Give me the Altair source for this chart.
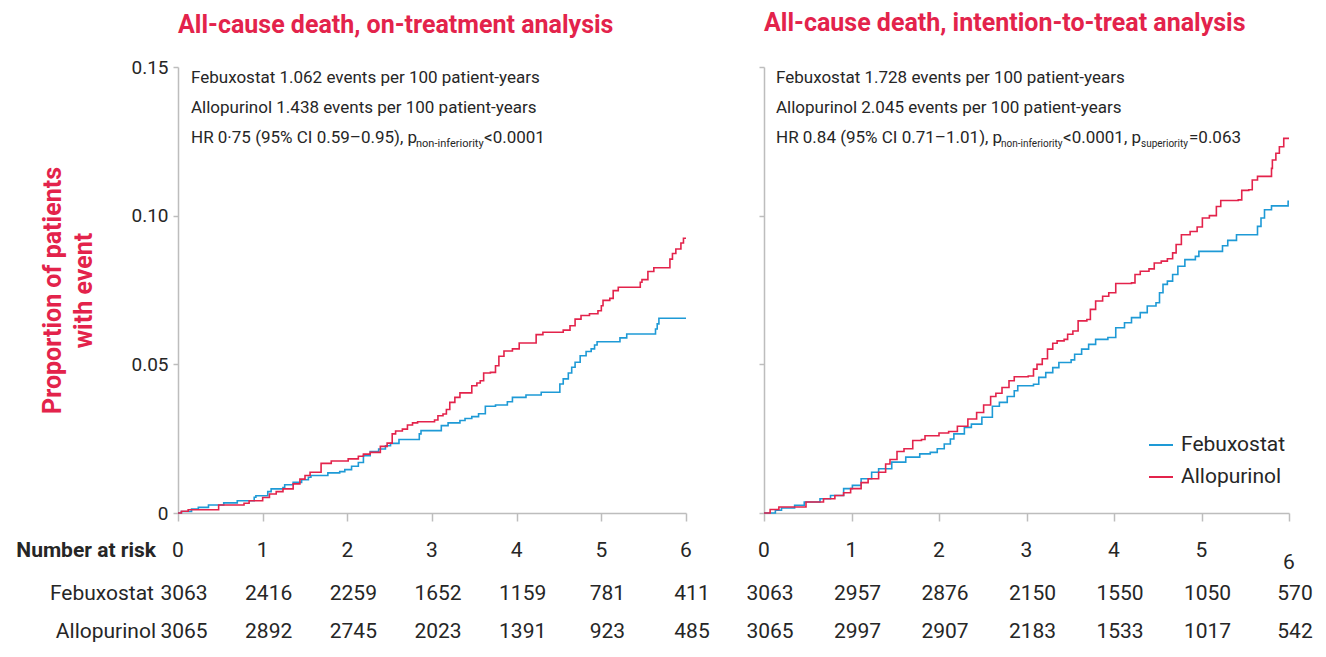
import altair as alt
import pandas as pd

FONT = "Roboto"
RED = "#E3234B"
BLUE = "#1E9AD6"
INK = "#262626"
AXIS = "#BDBDBD"

years = [0, 1, 2, 3, 4, 5, 6]
groups = ["Febuxostat", "Allopurinol"]

# ---- On-treatment analysis (cumulative proportion with event) ----
ot_feb_t = [0, 0.04, 0.16, 0.24, 0.36, 0.54, 0.70, 0.90, 0.92, 1.06,
            1.10, 1.24, 1.26, 1.36, 1.46, 1.54, 1.57, 1.77, 1.91, 1.97,
            2.05, 2.13, 2.19, 2.27, 2.37, 2.45, 2.51, 2.61, 2.85, 2.87,
            3.11, 3.19, 3.33, 3.39, 3.47, 3.55, 3.63, 3.75, 3.89, 3.95,
            4.11, 4.29, 4.51, 4.55, 4.61, 4.65, 4.69, 4.75, 4.82, 4.88,
            4.92, 4.95, 5.22, 5.30, 5.64, 5.66, 5.68, 6.00]
ot_feb_v = [0, 0.0005, 0.0013, 0.0019, 0.0027, 0.0034, 0.0041, 0.0053, 0.0058, 0.0072,
            0.0081, 0.0086, 0.0095, 0.0103, 0.0112, 0.0120, 0.0126, 0.0135, 0.0139, 0.0146,
            0.0157, 0.0170, 0.0193, 0.0207, 0.0215, 0.0226, 0.0234, 0.0247, 0.0266, 0.0277,
            0.0294, 0.0303, 0.0311, 0.0318, 0.0324, 0.0334, 0.0359, 0.0363, 0.0374, 0.0389,
            0.0397, 0.0406, 0.0434, 0.0451, 0.0471, 0.0490, 0.0507, 0.0529, 0.0543, 0.0552,
            0.0565, 0.0576, 0.0589, 0.0602, 0.0619, 0.0636, 0.0655, 0.0655]
ot_allo_t = [0, 0.04, 0.12, 0.48, 0.78, 0.84, 1.00, 1.08, 1.16, 1.24,
             1.36, 1.44, 1.50, 1.56, 1.69, 1.81, 2.01, 2.13, 2.19, 2.27,
             2.39, 2.47, 2.53, 2.57, 2.65, 2.71, 2.77, 2.83, 3.03, 3.07,
             3.13, 3.17, 3.21, 3.27, 3.33, 3.47, 3.53, 3.57, 3.61, 3.69,
             3.75, 3.79, 3.85, 3.95, 4.03, 4.23, 4.31, 4.55, 4.63, 4.69,
             4.76, 4.86, 4.96, 5.00, 5.02, 5.10, 5.14, 5.20, 5.46, 5.48,
             5.55, 5.62, 5.81, 5.84, 5.88, 5.94, 5.97, 6.00]
ot_allo_v = [0, 0.0006, 0.0011, 0.0027, 0.0033, 0.0041, 0.0052, 0.0064, 0.0072, 0.0081,
             0.0098, 0.0114, 0.0126, 0.0137, 0.0167, 0.0175, 0.0182, 0.0191, 0.0198, 0.0204,
             0.0224, 0.0235, 0.0266, 0.0276, 0.0282, 0.0296, 0.0303, 0.0307, 0.0313, 0.0327,
             0.0333, 0.0348, 0.0372, 0.0389, 0.0404, 0.0428, 0.0437, 0.0445, 0.0471, 0.0473,
             0.0495, 0.0527, 0.0545, 0.0552, 0.0572, 0.0600, 0.0608, 0.0615, 0.0630, 0.0652,
             0.0664, 0.0670, 0.0680, 0.0697, 0.0715, 0.0722, 0.0748, 0.0759, 0.0776, 0.0785,
             0.0812, 0.0825, 0.0854, 0.0873, 0.0888, 0.0908, 0.0924, 0.0924]

# ---- Intention-to-treat analysis ----
itt_feb_t = [0, 0.13, 0.20, 0.35, 0.46, 0.64, 0.76, 0.91, 1.01, 1.11,
             1.23, 1.31, 1.46, 1.62, 1.78, 1.90, 1.98, 2.06, 2.13, 2.17,
             2.29, 2.37, 2.49, 2.61, 2.69, 2.78, 2.86, 2.90, 3.08, 3.14,
             3.22, 3.30, 3.37, 3.51, 3.55, 3.63, 3.71, 3.79, 3.93, 4.02,
             4.12, 4.20, 4.30, 4.38, 4.48, 4.52, 4.56, 4.61, 4.67, 4.73,
             4.81, 4.93, 4.97, 5.24, 5.30, 5.40, 5.64, 5.68, 5.72, 5.80,
             5.99, 6.00]
itt_feb_v = [0, 0.0009, 0.0017, 0.0026, 0.0037, 0.0048, 0.0059, 0.0082, 0.0093, 0.0115,
             0.0137, 0.0149, 0.0171, 0.0188, 0.0199, 0.0204, 0.0216, 0.0232, 0.0249, 0.0266,
             0.0288, 0.0299, 0.0322, 0.0359, 0.0372, 0.0392, 0.0411, 0.0428, 0.0433, 0.0456,
             0.0472, 0.0489, 0.0506, 0.0515, 0.0534, 0.0551, 0.0567, 0.0584, 0.0590, 0.0623,
             0.0640, 0.0657, 0.0674, 0.0696, 0.0707, 0.0741, 0.0769, 0.0780, 0.0802, 0.0830,
             0.0852, 0.0863, 0.0880, 0.0899, 0.0917, 0.0936, 0.0964, 0.0992, 0.1020, 0.1033,
             0.1048, 0.1048]
itt_allo_t = [0, 0.07, 0.17, 0.48, 0.68, 0.81, 0.91, 0.99, 1.11, 1.19,
              1.31, 1.39, 1.44, 1.52, 1.60, 1.70, 1.80, 1.84, 2.00, 2.11,
              2.21, 2.33, 2.43, 2.51, 2.59, 2.65, 2.72, 2.80, 2.86, 3.02,
              3.08, 3.12, 3.18, 3.24, 3.30, 3.35, 3.43, 3.47, 3.53, 3.59,
              3.69, 3.73, 3.79, 3.87, 3.94, 4.02, 4.20, 4.24, 4.30, 4.40,
              4.46, 4.54, 4.61, 4.67, 4.71, 4.77, 4.87, 4.95, 5.01, 5.09,
              5.17, 5.22, 5.42, 5.46, 5.54, 5.58, 5.64, 5.80, 5.81, 5.85,
              5.89, 5.94, 6.00]
itt_allo_v = [0, 0.0012, 0.0020, 0.0037, 0.0048, 0.0059, 0.0068, 0.0082, 0.0102, 0.0115,
              0.0137, 0.0165, 0.0180, 0.0207, 0.0216, 0.0244, 0.0247, 0.0260, 0.0269, 0.0274,
              0.0292, 0.0316, 0.0338, 0.0363, 0.0392, 0.0403, 0.0422, 0.0445, 0.0458, 0.0461,
              0.0484, 0.0500, 0.0519, 0.0551, 0.0571, 0.0579, 0.0584, 0.0601, 0.0612, 0.0646,
              0.0651, 0.0685, 0.0713, 0.0729, 0.0741, 0.0772, 0.0774, 0.0802, 0.0813, 0.0821,
              0.0841, 0.0847, 0.0855, 0.0875, 0.0903, 0.0936, 0.0947, 0.0962, 0.0992, 0.1000,
              0.1031, 0.1051, 0.1053, 0.1085, 0.1087, 0.1120, 0.1132, 0.1159, 0.1187, 0.1210,
              0.1232, 0.1260, 0.1260]

# ---- Number at risk ----
ot_risk_feb = [3063, 2416, 2259, 1652, 1159, 781, 411]
ot_risk_allo = [3065, 2892, 2745, 2023, 1391, 923, 485]
itt_risk_feb = [3063, 2957, 2876, 2150, 1550, 1050, 570]
itt_risk_allo = [3065, 2997, 2907, 2183, 1533, 1017, 542]

H = 446
xscale = alt.Scale(domain=[0, 6], nice=False, zero=False)
yscale = alt.Scale(domain=[0, 0.15], nice=False)
cscale = alt.Scale(domain=groups, range=[BLUE, RED])


def curves_df(feb_t, feb_v, allo_t, allo_v):
    rows = [{"t": t, "v": v, "group": "Febuxostat"} for t, v in zip(feb_t, feb_v)]
    rows += [{"t": t, "v": v, "group": "Allopurinol"} for t, v in zip(allo_t, allo_v)]
    return pd.DataFrame(rows)


def one(text):
    return pd.DataFrame({"label": [text]})


def txt(text, x, y, size=17, align="left", weight="normal", color=INK,
        baseline="alphabetic", dy=0):
    return alt.Chart(one(text)).mark_text(
        align=align, baseline=baseline, fontSize=size, fontWeight=weight,
        color=color, font=FONT, dy=dy
    ).encode(x=alt.value(x), y=alt.value(y), text="label:N")


def row_text(ticks, values, y, size=21, dx=0, dy=0):
    df = pd.DataFrame({"t": ticks, "n": [str(v) for v in values]})
    return alt.Chart(df).mark_text(
        fontSize=size, color=INK, font=FONT, dx=dx, dy=dy, baseline="middle"
    ).encode(x=alt.X("t:Q", scale=xscale), y=alt.value(y), text="n:N")


def lines(df, left_axis):
    if left_axis:
        yaxis = alt.Axis(
            values=[0, 0.05, 0.10, 0.15],
            labelExpr="datum.value == 0 ? '0' : format(datum.value, '.2f')",
            labelFontSize=19, labelColor=INK, labelFont=FONT, labelPadding=5,
            tickSize=5, tickColor=AXIS, tickWidth=1.5, domainColor=AXIS, domainWidth=1.5,
            title=["Proportion of patients", "with event"], titleColor=RED, titleFont=FONT,
            titleFontSize=25, titleFontWeight="bold", titlePadding=34, titleLineHeight=31,
            grid=False)
    else:
        yaxis = alt.Axis(values=[0, 0.05, 0.10, 0.15], labels=False, title=None,
                         tickSize=5, tickColor=AXIS, tickWidth=1.5,
                         domainColor=AXIS, domainWidth=1.5, grid=False)
    xaxis = alt.Axis(values=years, labels=False, title=None, tickSize=8,
                     tickColor=AXIS, tickWidth=1.5, domainColor=AXIS, domainWidth=1.5,
                     grid=False)
    return alt.Chart(df).mark_line(interpolate="step-after", strokeWidth=1.6).encode(
        x=alt.X("t:Q", scale=xscale, axis=xaxis),
        y=alt.Y("v:Q", scale=yscale, axis=yaxis),
        color=alt.Color("group:N", scale=cscale, legend=None),
    )


def title(text, offset):
    return alt.TitleParams(text, anchor="start", frame="group", color=RED, fontSize=25,
                           fontWeight="bold", font=FONT, offset=offset)


ROW_HEAD = 484
ROW_FEB = 527
ROW_ALLO = 565

left = alt.layer(
    lines(curves_df(ot_feb_t, ot_feb_v, ot_allo_t, ot_allo_v), True),
    txt("Febuxostat 1.062 events per 100 patient-years", 13, 16),
    txt("Allopurinol 1.438 events per 100 patient-years", 13, 46),
    txt("HR 0·75 (95% CI 0.59–0.95), p", 13, 76),
    txt("non-inferiority", 238, 80, size=11),
    txt("<0.0001", 306, 76),
    txt("Number at risk", -22, ROW_HEAD, size=21, align="right", weight="bold",
        baseline="middle"),
    txt("Febuxostat", -24, ROW_FEB, size=21, align="right", baseline="middle"),
    txt("Allopurinol", -22, ROW_ALLO, size=21, align="right", baseline="middle"),
    row_text(years, years, ROW_HEAD),
    row_text(years, ot_risk_feb, ROW_FEB, dx=6),
    row_text(years, ot_risk_allo, ROW_ALLO, dx=6),
).properties(width=508, height=H,
             title=title("All-cause death, on-treatment analysis", 20))

legend_feb = alt.Chart(one("")).mark_rule(color=BLUE, strokeWidth=2).encode(
    x=alt.value(385), x2=alt.value(409), y=alt.value(378))
legend_allo = alt.Chart(one("")).mark_rule(color=RED, strokeWidth=2).encode(
    x=alt.value(385), x2=alt.value(409), y=alt.value(410))

right = alt.layer(
    lines(curves_df(itt_feb_t, itt_feb_v, itt_allo_t, itt_allo_v), False),
    txt("Febuxostat 1.728 events per 100 patient-years", 12, 16),
    txt("Allopurinol 2.045 events per 100 patient-years", 12, 46),
    txt("HR 0.84 (95% CI 0.71–1.01), p", 12, 76),
    txt("non-inferiority", 237, 80, size=10),
    txt("<0.0001, p", 299, 76),
    txt("superiority", 377, 80, size=10),
    txt("=0.063", 425, 76),
    legend_feb, legend_allo,
    txt("Febuxostat", 417, 378, size=21, baseline="middle"),
    txt("Allopurinol", 417, 410, size=21, baseline="middle"),
    row_text(years[:6], years[:6], ROW_HEAD),
    row_text(years[6:], years[6:], ROW_HEAD, dy=12),
    row_text(years, itt_risk_feb, ROW_FEB, dx=6),
    row_text(years, itt_risk_allo, ROW_ALLO, dx=6),
).properties(width=525, height=H,
             title=title("All-cause death, intention-to-treat analysis", 30))

chart = alt.hconcat(left, right, spacing=78, bounds="flush").configure_view(
    stroke=None
).properties(padding={"left": 8, "top": 3, "right": 5, "bottom": 5})

chart.save("out.html", embed_options={"renderer": "svg", "actions": False})
